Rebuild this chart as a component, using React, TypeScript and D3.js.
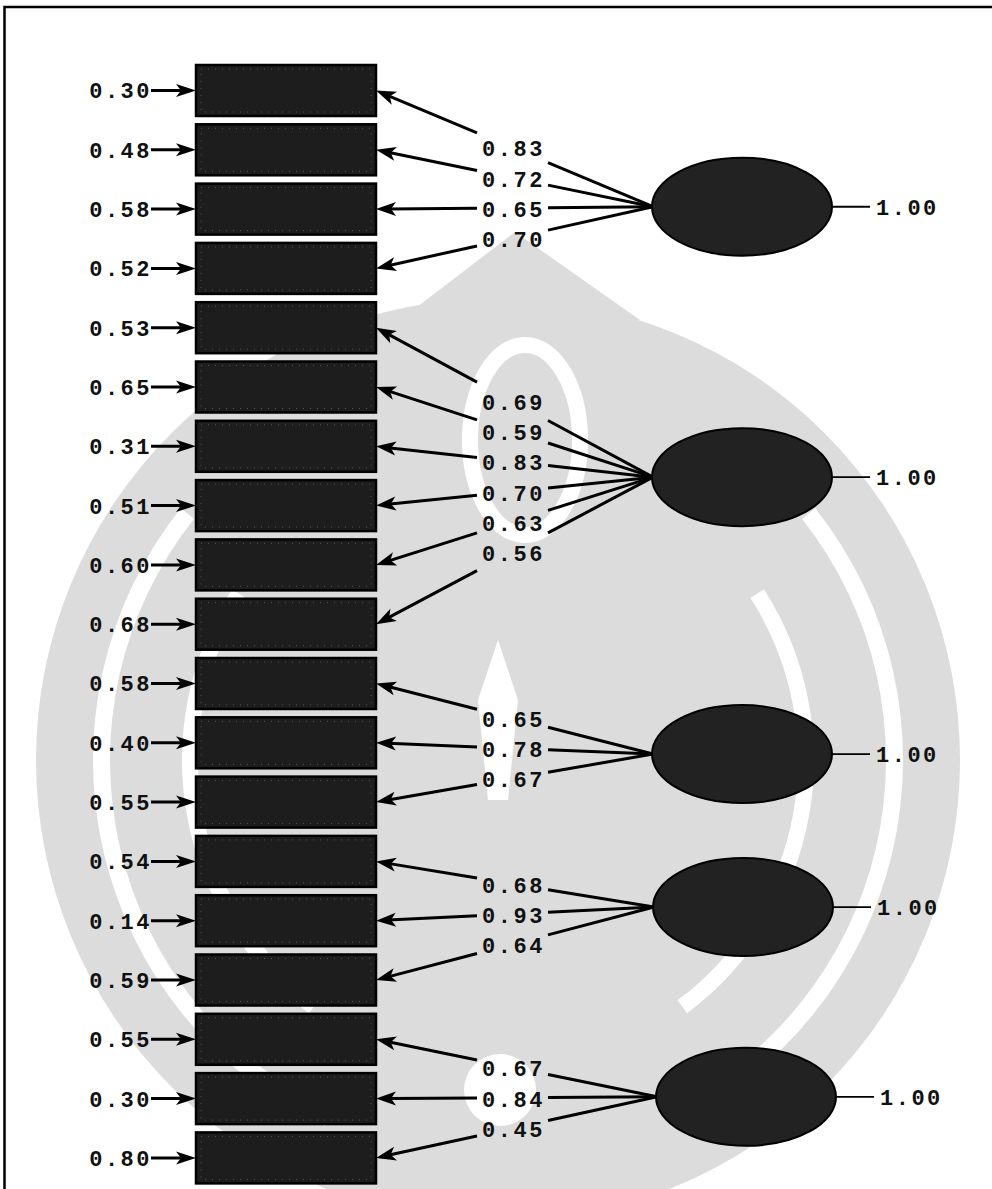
import React from "react";
import * as d3 from "d3";

// ---- data ----
const errorVariances = [0.30, 0.48, 0.58, 0.52, 0.53, 0.65, 0.31, 0.51, 0.60, 0.68, 0.58, 0.40, 0.55, 0.54, 0.14, 0.59, 0.55, 0.30, 0.80];
const factorIndicators = [[0, 1, 2, 3], [4, 5, 6, 7, 8, 9], [10, 11, 12], [13, 14, 15], [16, 17, 18]];
const loadings = [[0.83, 0.72, 0.65, 0.70], [0.69, 0.59, 0.83, 0.70, 0.63, 0.56], [0.65, 0.78, 0.67], [0.68, 0.93, 0.64], [0.67, 0.84, 0.45]];
const factorVariances = [1.00, 1.00, 1.00, 1.00, 1.00];

// ---- layout ----
const W = 992;
const H = 1189;
const factorRow = [1.96, 6.52, 11.19, 13.77, 16.97];
const factorCx = [742, 742, 742, 743, 746];
const BOX_X0 = 196;
const BOX_X1 = 376;
const BOX_H = 51;
const RX = 90;
const RY = 49;
const LABEL_X = 512;
const GAP_L = 477;
const GAP_R = 548;
const FONT = "'Liberation Mono', 'DejaVu Sans Mono', monospace";

const rowY = d3.scaleLinear().domain([0, errorVariances.length - 1]).range([90.5, 1157.9]);
const fmt = d3.format(".2f");
const line = d3.line<[number, number]>();

function arrowHead(tip: [number, number], from: [number, number], len = 13, half = 5) {
  const dx = tip[0] - from[0];
  const dy = tip[1] - from[1];
  const d = Math.hypot(dx, dy);
  const ux = dx / d, uy = dy / d;
  const bx = tip[0] - ux * len, by = tip[1] - uy * len;
  const pts: [number, number][] = [
    tip,
    [bx - uy * half, by + ux * half],
    [tip[0] - ux * len * 0.75, tip[1] - uy * len * 0.75],
    [bx + uy * half, by - ux * half],
  ];
  return line(pts) + "Z";
}

function pointAtX(p0: [number, number], p1: [number, number], x: number): [number, number] {
  const t = (p0[0] - x) / (p0[0] - p1[0]);
  return [x, p0[1] + t * (p1[1] - p0[1])];
}

function Watermark() {
  const c = "#dcdcdc";
  const arc = d3.arc();
  const cx = 498, cy = 760;
  return (
    <g>
      <circle cx={cx} cy={cy} r={462} fill={c} />
      <path d="M 515 232 L 640 320 L 400 320 Z" fill={c} />
      <path d={arc({ innerRadius: 388, outerRadius: 405, startAngle: -2.7, endAngle: -0.9 }) || ""} transform={`translate(${cx},${cy})`} fill="#fff" />
      <path d={arc({ innerRadius: 388, outerRadius: 405, startAngle: 0.9, endAngle: 2.7 }) || ""} transform={`translate(${cx},${cy})`} fill="#fff" />
      <path d={arc({ innerRadius: 300, outerRadius: 316, startAngle: -2.5, endAngle: -1.0 }) || ""} transform={`translate(${cx},${cy})`} fill="#fff" />
      <path d={arc({ innerRadius: 300, outerRadius: 316, startAngle: 1.0, endAngle: 2.5 }) || ""} transform={`translate(${cx},${cy})`} fill="#fff" />
      <ellipse cx={525} cy={440} rx={55} ry={95} fill="none" stroke="#fff" strokeWidth={16} />
      <path d="M 478 700 L 498 640 L 518 700 L 508 800 L 488 800 Z" fill="#fff" />
      <circle cx={500} cy={1090} r={36} fill="#fff" />
    </g>
  );
}

export default function App() {
  return (
    <svg width={W} height={H} viewBox={`0 0 ${W} ${H}`} style={{ position: "absolute", left: 0, top: 0, background: "#fff" }}>
      <rect x={0} y={0} width={W} height={H} fill="#fff" />
      <Watermark />
      <path d={`M4.5,${H} V7 H${W}`} fill="none" stroke="#000" strokeWidth={2.5} />

      {/* observed variables */}
      {errorVariances.map((e, i) => {
        const cy = rowY(i);
        const tip: [number, number] = [BOX_X0, cy];
        const start: [number, number] = [151, cy];
        return (
          <g key={"obs" + i}>
            <rect x={BOX_X0} y={cy - BOX_H / 2} width={BOX_X1 - BOX_X0} height={BOX_H} fill="#1d1d1d" stroke="#000" strokeWidth={2.5} />
            <rect x={BOX_X0 + 5} y={cy - BOX_H / 2 + 4} width={BOX_X1 - BOX_X0 - 10} height={BOX_H - 8} fill="none" stroke="#555" strokeWidth={1} strokeDasharray="1 6" />
            <path d={line([start, [BOX_X0 - 10, cy]]) || ""} stroke="#000" strokeWidth={3} fill="none" />
            <path d={arrowHead(tip, start, 20, 6.5)} fill="#000" />
            <text x={152} y={cy} dy="0.36em" textAnchor="end" fontFamily={FONT} fontWeight="bold" fontSize={22} letterSpacing={2.5} fill="#111">
              {fmt(e)}
            </text>
          </g>
        );
      })}

      {/* latent variables */}
      {factorIndicators.map((inds, f) => {
        const cy = rowY(factorRow[f]);
        const cx = factorCx[f];
        const p0: [number, number] = [cx - RX + 1, cy];
        return (
          <g key={"lat" + f}>
            {inds.map((ind, k) => {
              const p1: [number, number] = [BOX_X1, rowY(ind)];
              const a = pointAtX(p0, p1, GAP_R);
              const b = pointAtX(p0, p1, GAP_L);
              const lab = pointAtX(p0, p1, LABEL_X);
              const beforeTip = pointAtX(p0, p1, BOX_X1 + 12);
              return (
                <g key={"ld" + k}>
                  <path d={line([p0, a]) || ""} stroke="#000" strokeWidth={3} fill="none" />
                  <path d={line([b, beforeTip]) || ""} stroke="#000" strokeWidth={3} fill="none" />
                  <path d={arrowHead(p1, p0, 20, 7)} fill="#000" />
                  <text x={lab[0] + 1.5} y={lab[1] + 1} dy="0.36em" textAnchor="middle" fontFamily={FONT} fontWeight="bold" fontSize={22} letterSpacing={2.5} fill="#111">
                    {fmt(loadings[f][k])}
                  </text>
                </g>
              );
            })}
            <ellipse cx={cx} cy={cy} rx={RX} ry={RY} fill="#222" stroke="#000" strokeWidth={2} />
            <path d={line([[cx + RX, cy], [cx + RX + 38, cy]]) || ""} stroke="#000" strokeWidth={1.8} fill="none" />
            <text x={cx + RX + 44} y={cy} dy="0.36em" textAnchor="start" fontFamily={FONT} fontWeight="bold" fontSize={22} letterSpacing={2.5} fill="#111">
              {fmt(factorVariances[f])}
            </text>
          </g>
        );
      })}
    </svg>
  );
}
